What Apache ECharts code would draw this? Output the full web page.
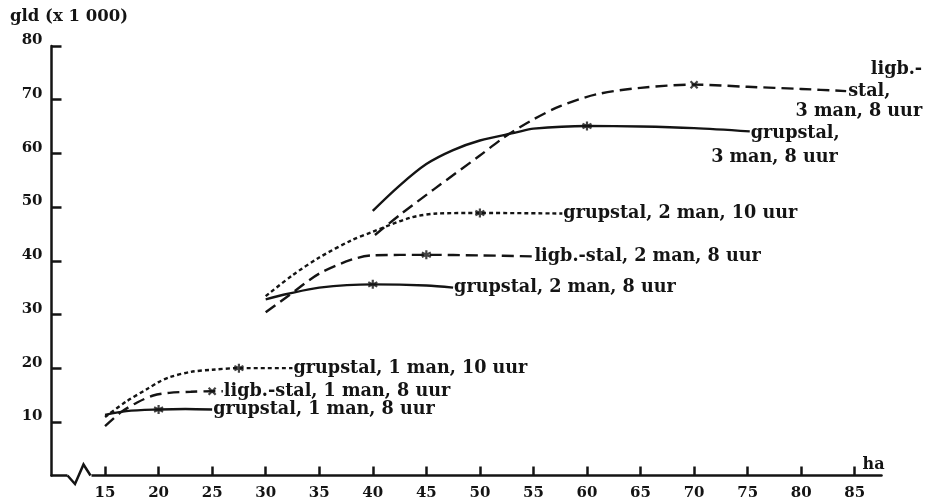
<!DOCTYPE html>
<html>
<head>
<meta charset="utf-8">
<script src="https://cdn.jsdelivr.net/npm/echarts@6/dist/echarts.min.js"></script>
<style>
  html, body { margin: 0; background: #fff; }
  #chart { width: 930px; height: 503px; }
</style>
</head>
<body>
<div id="chart"></div>
<script>
// tick labels
const xTicks = [15, 20, 25, 30, 35, 40, 45, 50, 55, 60, 65, 70, 75, 80, 85];
const yTicks = [10, 20, 30, 40, 50, 60, 70, 80];

// curves: [ha, gld x 1000]
const grup1man8 = [[15, 11.3], [17, 12.0], [20, 12.3], [22.5, 12.4], [25, 12.3]];
const ligb1man8 = [[15, 9.2], [16.5, 11.8], [18, 13.6], [19.5, 14.9], [21, 15.4], [23, 15.6], [25, 15.7], [26, 15.7]];
const grup1man10 = [[15, 10.9], [17, 13.8], [19, 16.2], [20, 17.4], [21, 18.3], [23, 19.3], [25, 19.7], [27.5, 20.0], [32.5, 20.0]];
const grup2man8 = [[30, 32.8], [32, 33.8], [35, 35.0], [40, 35.6], [45, 35.4], [47.5, 35.0]];
const ligb2man8 = [[30, 30.4], [32, 33.3], [35, 37.6], [38, 40.2], [40, 41.0], [45, 41.1], [50, 41.0], [55, 40.8]];
const grup2man10 = [[30, 33.4], [32.5, 37.3], [35, 40.6], [38, 43.8], [40, 45.4], [43.5, 48.0], [46, 48.8], [50, 48.9], [57.7, 48.8]];
const grup3man8 = [[40, 49.3], [42.5, 54.0], [45, 58.0], [47.5, 60.6], [50, 62.4], [53.4, 63.9], [55, 64.6], [60, 65.1], [65, 65.0], [70, 64.7], [75.2, 64.1]];
const ligb3man8 = [[40.2, 44.8], [42.5, 48.5], [45.7, 53.3], [50, 59.6], [52.2, 62.9], [54.7, 66.0], [57.5, 68.8], [60.9, 71.0], [65, 72.2], [70, 72.8], [75, 72.4], [80, 72.0], [84.2, 71.6]];

// marked points on the curves
const starMarks = [[20, 12.3], [27.5, 20.0], [40, 35.6], [45, 41.1], [50, 48.9], [60, 65.1]];
const crossMarks = [[25, 15.7], [70, 72.8]];

const INK = '#141414';
const FONT = 'DejaVu Serif';
const SHORT = [4, 3];
const LONG = [12, 6];

function curve(name, data, dash, label) {
  return {
    type: 'line',
    name: name,
    data: data,
    smooth: 0.3,
    symbol: 'none',
    clip: false,
    lineStyle: { color: INK, width: 2.4, type: dash },
    endLabel: {
      show: !!label,
      formatter: label || '',
      distance: 1,
      color: INK,
      fontFamily: FONT,
      fontWeight: 'bold',
      fontSize: 17.6
    },
    z: 2
  };
}

const option = {
  animation: false,
  backgroundColor: '#fff',
  title: {
    text: 'gld (x 1 000)',
    left: 5,
    top: 3,
    textStyle: { fontFamily: FONT, fontWeight: 'bold', fontSize: 16.5, color: INK }
  },
  grid: { left: 51.5, right: 48.5, top: 46, bottom: 27.5 },
  xAxis: {
    type: 'value',
    min: 10,
    max: 87.5,
    name: 'ha',
    nameLocation: 'end',
    nameGap: 3,
    nameTextStyle: { align: 'right', verticalAlign: 'bottom', padding: [0, 0, 3, 0],
      fontFamily: FONT, fontWeight: 'bold', fontSize: 16, color: INK },
    axisLine: { lineStyle: { color: INK, width: 2.5 } },
    axisTick: { customValues: xTicks, inside: true, length: 9, lineStyle: { color: INK, width: 2.5 } },
    axisLabel: { customValues: xTicks, margin: 10, fontFamily: FONT, fontWeight: 'bold', fontSize: 15, color: INK },
    splitLine: { show: false }
  },
  yAxis: {
    type: 'value',
    min: 0,
    max: 80,
    axisLine: { show: true, lineStyle: { color: INK, width: 2.5 } },
    axisTick: { show: true, customValues: yTicks, inside: true, length: 10, lineStyle: { color: INK, width: 2.5 } },
    axisLabel: { customValues: yTicks, margin: 9, verticalAlign: 'bottom', lineHeight: 11,
      fontFamily: FONT, fontWeight: 'bold', fontSize: 15, color: INK },
    splitLine: { show: false }
  },
  series: [
    curve('grupstal, 1 man, 8 uur', grup1man8, 'solid', 'grupstal, 1 man, 8 uur'),
    curve('ligb.-stal, 1 man, 8 uur', ligb1man8, LONG, 'ligb.-stal, 1 man, 8 uur'),
    curve('grupstal, 1 man, 10 uur', grup1man10, SHORT, 'grupstal, 1 man, 10 uur'),
    curve('grupstal, 2 man, 8 uur', grup2man8, 'solid', 'grupstal, 2 man, 8 uur'),
    curve('ligb.-stal, 2 man, 8 uur', ligb2man8, LONG, 'ligb.-stal, 2 man, 8 uur'),
    curve('grupstal, 2 man, 10 uur', grup2man10, SHORT, 'grupstal, 2 man, 10 uur'),
    curve('grupstal, 3 man, 8 uur', grup3man8, 'solid', null),
    curve('ligb.-stal, 3 man, 8 uur', ligb3man8, LONG, null),
    {
      type: 'scatter',
      data: starMarks,
      symbol: 'path://M5,0L5,10M0.7,2.5L9.3,7.5M0.7,7.5L9.3,2.5',
      symbolSize: 9,
      itemStyle: { color: 'none', borderColor: INK, borderWidth: 2.2 },
      z: 3
    },
    {
      type: 'scatter',
      data: crossMarks,
      symbol: 'path://M0,0L10,10M0,10L10,0',
      symbolSize: 7,
      itemStyle: { color: 'none', borderColor: INK, borderWidth: 2.2 },
      z: 3
    }
  ]
};

const chart = echarts.init(document.getElementById('chart'));
chart.setOption(option);

// axis break and the two-line labels of the 3-man curves
const toPx = p => chart.convertToPixel({ gridIndex: 0 }, p);
const o = toPx([10, 0]);
const g3 = toPx(grup3man8[grup3man8.length - 1]);
const l3 = toPx(ligb3man8[ligb3man8.length - 1]);
const txt = (text, x, y, align) => ({
  type: 'text', x: x, y: y, z: 10,
  style: { text: text, align: align, verticalAlign: 'middle', fill: INK,
    font: 'bold 17.6px "' + FONT + '"' }
});

chart.setOption({
  graphic: [
    { type: 'rect', z: 9, shape: { x: o[0] + 16, y: o[1] - 3, width: 24, height: 6 }, style: { fill: '#fff' } },
    { type: 'polyline', z: 10,
      shape: { points: [[o[0] + 16, o[1]], [o[0] + 23.5, o[1] + 8.5], [o[0] + 32, o[1] - 11], [o[0] + 39, o[1]]] },
      style: { stroke: INK, lineWidth: 2.5, fill: 'none' } },
    txt('grupstal,', g3[0] + 1, g3[1] + 2, 'left'),
    txt('3 man, 8 uur', g3[0] + 88, g3[1] + 26, 'right'),
    txt('stal,', l3[0] + 2, l3[1], 'left'),
    txt('ligb.-', l3[0] + 76, l3[1] - 22, 'right'),
    txt('3 man, 8 uur', l3[0] + 76, l3[1] + 20, 'right')
  ]
});
</script>
</body>
</html>
